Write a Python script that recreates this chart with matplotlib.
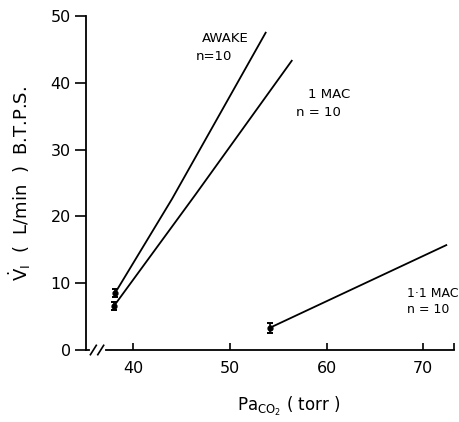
import matplotlib
matplotlib.use("Agg")
import matplotlib.pyplot as plt

# Data
awake_x = [38.1, 44.0, 53.7]
awake_y = [8.5, 22.6, 47.5]
mac1_x = [38.0, 46.4, 56.4]
mac1_y = [6.6, 23.2, 43.3]
mac11_x = [54.1, 72.4]
mac11_y = [3.3, 15.7]
err_x = [38.1, 38.0, 54.1]
err_y = [8.5, 6.6, 3.3]
err_e = [0.6, 0.6, 0.75]
xticks = [40, 50, 60, 70]
yticks = [0, 10, 20, 30, 40, 50]

plt.rcParams['font.family'] = ['DejaVu Sans']
fig = plt.figure(figsize=(4.59, 4.22), dpi=100)
ax = fig.add_axes([86/459, 1-350/422, (454-86)/459, (350-16)/422])

for xs, ys in [(awake_x, awake_y), (mac1_x, mac1_y), (mac11_x, mac11_y)]:
    ax.plot(xs, ys, color='black', lw=1.3)
ax.errorbar(err_x, err_y, yerr=err_e, fmt='o', ms=3.5, color='black',
            capsize=2.5, elinewidth=1.2, capthick=1.4)

ax.set_xlim(35.1, 73.2)
ax.set_ylim(0, 50)
ax.set_xticks(xticks + [73.2])
ax.set_xticklabels([str(t) for t in xticks] + [''])
ax.set_yticks(yticks)
ax.spines['top'].set_visible(False)
ax.spines['right'].set_visible(False)
ax.spines['left'].set_linewidth(1.3)
ax.spines['bottom'].set_linewidth(1.3)
ax.tick_params(axis='x', direction='in', length=5, width=1.2, labelsize=11.5, pad=8)
ax.tick_params(axis='y', direction='out', length=8, width=1.2, labelsize=11.5, pad=3)

# axis break
bx0, bx1 = 0.02, 0.04
ax.plot([bx0 - 0.005, bx1 + 0.005], [0, 0], color='white', lw=3,
        transform=ax.transAxes, clip_on=False, zorder=5)
for bx in (bx0, bx1):
    ax.plot([bx - 0.008, bx + 0.008], [-0.014, 0.014], color='black', lw=1.2,
            transform=ax.transAxes, clip_on=False, zorder=6)

ax.set_ylabel(r'$\dot{\mathrm{V}}_{\mathrm{I}}$  (  L/min  )  B.T.P.S.', fontsize=13)
ax.yaxis.set_label_coords(-0.145, 0.5)
ax.set_xlabel(r'Pa$_{\mathrm{CO_2}}$ ( torr )', fontsize=12)
ax.xaxis.set_label_coords(0.55, -0.135)

ax.text(47.1, 46.7, 'AWAKE', fontsize=9.5, ha='left', va='center')
ax.text(46.5, 43.9, 'n=10', fontsize=9.5, ha='left', va='center')
ax.text(58.1, 38.2, '1 MAC', fontsize=9.5, ha='left', va='center')
ax.text(56.8, 35.5, 'n = 10', fontsize=9.5, ha='left', va='center')
ax.text(68.3, 8.5, '1·1 MAC', fontsize=9, ha='left', va='center')
ax.text(68.3, 6.0, 'n = 10', fontsize=9, ha='left', va='center')

fig.savefig('out.png', dpi=100)
